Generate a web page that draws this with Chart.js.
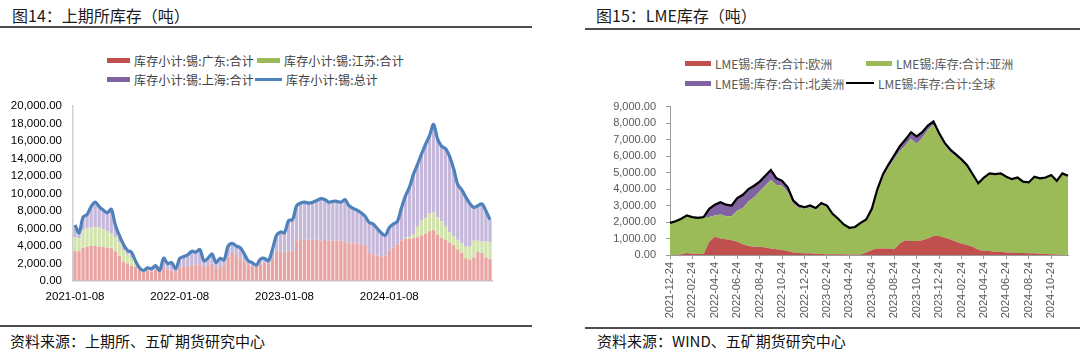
<!DOCTYPE html>
<html lang="zh-CN">
<head>
<meta charset="utf-8">
<title>上期所库存 / LME库存</title>
<script src="https://cdn.jsdelivr.net/npm/chart.js@4.4.1/dist/chart.umd.min.js"></script>
<style>
  html, body { margin: 0; padding: 0; background: #fff; }
  body {
    width: 1080px; height: 358px; position: relative; overflow: hidden;
    font-family: "Noto Sans CJK SC", "Liberation Sans", sans-serif;
  }
  .title { position: absolute; top: 4px; font-size: 16px; line-height: 22px; color: #1a1a1a; white-space: nowrap; }
  .rule { position: absolute; height: 2px; background: #4d4d4d; }
  .src { position: absolute; top: 331px; font-size: 15px; line-height: 20px; color: #111; white-space: nowrap; }
  .lg { position: absolute; height: 20px; display: flex; align-items: center; font-size: 12px; white-space: nowrap; }
  .lg i { display: inline-block; margin-right: 4px; }
  .lg.shfe { color: #404040; letter-spacing: 0.15px; }
  .lg.lme { color: #595959; letter-spacing: 0; }
  .box { position: absolute; }
</style>
</head>
<body>
  <div class="title" style="left:12px">图14：上期所库存（吨）</div>
  <div class="rule" style="left:0;width:532px;top:26px"></div>
  <div class="title" style="left:596px">图15：LME库存（吨）</div>
  <div class="rule" style="left:585px;width:495px;top:28px"></div>

  <div class="lg shfe" style="left:107px;top:50px"><i style="width:23px;height:5px;background:#c0504d"></i>库存小计:锡:广东:合计</div>
  <div class="lg shfe" style="left:257px;top:50px"><i style="width:23px;height:5px;background:#9bbb59"></i>库存小计:锡:江苏:合计</div>
  <div class="lg shfe" style="left:107px;top:69px"><i style="width:23px;height:5px;background:#8064a2"></i>库存小计:锡:上海:合计</div>
  <div class="lg shfe" style="left:255px;top:69px"><i style="width:27px;height:3px;background:#4f81bd"></i>库存小计:锡:总计</div>

  <div class="lg lme" style="left:685px;top:53px"><i style="width:26px;height:5px;background:#c0504d"></i>LME锡:库存:合计:欧洲</div>
  <div class="lg lme" style="left:866px;top:53px"><i style="width:26px;height:5px;background:#9bbb59"></i>LME锡:库存:合计:亚洲</div>
  <div class="lg lme" style="left:685px;top:73px"><i style="width:26px;height:5px;background:#8064a2"></i>LME锡:库存:合计:北美洲</div>
  <div class="lg lme" style="left:846px;top:73px"><i style="width:28px;height:2px;background:#000"></i>LME锡:库存:合计:全球</div>

  <div class="box" style="left:0;top:88px;width:540px;height:222px"><canvas id="shfe-chart"></canvas></div>
  <div class="box" style="left:585px;top:90px;width:495px;height:235px"><canvas id="lme-chart"></canvas></div>

  <div class="rule" style="left:0;width:532px;top:325px"></div>
  <div class="rule" style="left:585px;width:495px;top:327px"></div>
  <div class="src" style="left:10px">资料来源：上期所、五矿期货研究中心</div>
  <div class="src" style="left:597px">资料来源：WIND、五矿期货研究中心</div>

<script>
/* ================== DATA: 上期所 (biweekly, 吨) ================== */
const shfeTickLabels = ["2021-01-08", "2022-01-08", "2023-01-08", "2024-01-08"];

const shfeGuangdong = [
  3400, 3400, 3800, 3900, 4000, 4000, 3900, 3900, 3800, 3750,
  3400, 2900, 2200, 2000, 1750, 1600, 1300, 1100, 1200, 1100,
  1300, 1000, 1500, 1300, 1200, 900, 1500, 1600, 1700, 1800,
  1800, 1900, 1600, 1700, 2000, 1500, 1600, 1800, 2800, 3200,
  3000, 2600, 2200, 1800, 1700, 1600, 2000, 2100, 2000, 2600,
  3300, 3400, 3300, 3400, 3500, 4600, 4800, 4700, 4700, 4700,
  4700, 4600, 4700, 4600, 4600, 4600, 4600, 4500, 4300, 4300,
  4300, 4200, 4000, 3200, 3000, 2900, 2800, 2900, 3500, 3800,
  4200, 4600, 4850, 4850, 4900, 5000, 5200, 5400, 5700, 5800,
  5300, 4900, 4700, 4400, 4100, 3600, 3200, 2600, 2400, 2700,
  3300, 3200, 2700, 2500,
];

const shfeJiangsu = [
  1600, 1500, 2000, 2100, 2100, 2100, 2200, 2000, 1900, 1650,
  1600, 1500, 1300, 1000, 900, 600, 200, 50, 0, 0,
  0, 0, 0, 0, 0, 0, 0, 0, 0, 0,
  0, 0, 0, 0, 0, 0, 0, 0, 0, 0,
  0, 0, 0, 0, 0, 0, 0, 0, 0, 0,
  0, 0, 0, 0, 0, 0, 0, 0, 0, 0,
  0, 0, 0, 0, 0, 0, 0, 0, 0, 0,
  0, 0, 0, 0, 0, 0, 0, 0, 0, 0,
  0, 0, 100, 200, 400, 1200, 1700, 1800, 2000, 2000,
  2000, 1900, 1500, 1200, 1050, 1100, 1100, 1300, 1600, 1900,
  1300, 1300, 1800, 1900,
];

const shfeShanghai = [
  1400, 600, 1500, 1600, 2400, 2900, 2400, 2200, 2100, 2800,
  1400, 800, 700, 500, 650, 100, 0, 50, 300, 300,
  450, 200, 1100, 700, 900, 500, 1100, 1200, 1300, 1600,
  1500, 1700, 700, 900, 1100, 600, 1000, 600, 1200, 1100,
  1000, 1200, 900, 500, 400, 200, 500, 500, 300, 1000,
  1900, 2200, 2200, 3500, 3500, 4000, 4100, 4300, 4200, 4300,
  4500, 4800, 4600, 4400, 4500, 4500, 4400, 4800, 4300, 4000,
  3800, 3600, 3400, 3500, 3500, 3100, 2700, 2300, 2600, 2700,
  2600, 3700, 4750, 5650, 6900, 7100, 7600, 8400, 8900, 10100,
  8900, 8600, 8900, 8600, 7650, 6300, 6100, 5700, 4850, 3800,
  4000, 4300, 3500, 2600,
];

const shfeTotal = [
  6400, 5500, 7300, 7600, 8500, 9000, 8500, 8100, 7800, 8200,
  6400, 5200, 4200, 3500, 3300, 2300, 1500, 1200, 1500, 1400,
  1750, 1200, 2600, 2000, 2100, 1400, 2600, 2800, 3000, 3400,
  3300, 3600, 2300, 2600, 3100, 2100, 2600, 2400, 4000, 4300,
  4000, 3800, 3100, 2300, 2100, 1800, 2500, 2600, 2300, 3600,
  5200, 5600, 5500, 6900, 7000, 8600, 8900, 9000, 8900, 9000,
  9200, 9400, 9300, 9000, 9100, 9100, 9000, 9300, 8600, 8300,
  8100, 7800, 7400, 6700, 6500, 6000, 5500, 5200, 6100, 6500,
  6800, 8300, 9700, 10700, 12200, 13300, 14500, 15600, 16600, 17900,
  16200, 15400, 15100, 14200, 12800, 11000, 10400, 9600, 8850, 8400,
  8600, 8800, 8000, 7000,
];

/* ================== DATA: LME (semi-monthly, 吨) ================== */
const lmeEurope = [
  0, 0, 50, 120, 80, 60, 60, 800, 1100, 1000,
  950, 900, 800, 650, 550, 500, 500, 450, 400, 350,
  300, 250, 150, 120, 100, 100, 80, 60, 50, 50,
  50, 40, 30, 30, 30, 150, 300, 400, 400, 400,
  350, 700, 900, 850, 850, 900, 1000, 1150, 1150, 1050,
  950, 800, 700, 600, 500, 320, 250, 250, 200, 200,
  150, 150, 120, 120, 100, 100, 80, 60, 50, 30,
  0, 0,
];

const lmeAsia = [
  1950, 2050, 2150, 2280, 2220, 2190, 2240, 1500, 1300, 1450,
  1400, 1450, 1900, 2200, 2700, 3000, 3350, 3750, 4150, 3900,
  3900, 3550, 2950, 2730, 2700, 2800, 2670, 2990, 2850, 2370,
  2100, 1780, 1620, 1670, 1920, 2000, 2450, 3500, 4350, 4900,
  5450, 5600, 5750, 6200, 5900, 6200, 6600, 6750, 6100, 5600,
  5300, 5180, 5000, 4770, 4350, 4000, 4450, 4700, 4700, 4750,
  4600, 4450, 4580, 4330, 4300, 4650, 4570, 4640, 4800, 4470,
  4950, 4800,
];

const lmeNorthAmerica = [
  0, 0, 0, 0, 0, 0, 0, 500, 650, 750,
  700, 650, 750, 800, 750, 700, 600, 600, 600, 400,
  300, 300, 200, 150, 100, 100, 100, 100, 100, 80,
  50, 30, 0, 0, 0, 0, 50, 100, 150, 200,
  250, 300, 350, 400, 450, 350, 250, 200, 150, 150,
  150, 120, 100, 80, 50, 30, 0, 0, 0, 0,
  0, 0, 0, 0, 0, 0, 0, 0, 0, 0,
  0, 0,
];

const lmeGlobal = [
  1950, 2050, 2200, 2400, 2300, 2250, 2300, 2800, 3050, 3200,
  3050, 3000, 3450, 3650, 4000, 4200, 4450, 4800, 5150, 4650,
  4500, 4100, 3300, 3000, 2900, 3000, 2850, 3150, 3000, 2500,
  2200, 1850, 1650, 1700, 1950, 2150, 2800, 4000, 4900, 5500,
  6050, 6600, 7000, 7450, 7200, 7450, 7850, 8100, 7400, 6800,
  6400, 6100, 5800, 5450, 4900, 4350, 4700, 4950, 4900, 4950,
  4750, 4600, 4700, 4450, 4400, 4750, 4650, 4700, 4850, 4500,
  4950, 4800,
];

/* ================== CATEGORIES ================== */
const pad2 = (n) => String(n).padStart(2, "0");
const ymd = (d) => `${d.getUTCFullYear()}-${pad2(d.getUTCMonth() + 1)}-${pad2(d.getUTCDate())}`;

// 上期所: every two weeks from 2021-01-08
const shfeDates = shfeTotal.map((_, i) => ymd(new Date(Date.UTC(2021, 0, 8 + i * 14))));
const SHFE_TICK_EVERY = 26;

// LME: the 24th and the 9th of each month from 2021-12-24
const lmeDates = lmeGlobal.map((_, i) => {
  const m = 11 + Math.floor((i + 1) / 2);
  const day = i % 2 === 0 ? 24 : 9;
  return ymd(new Date(Date.UTC(2021, m, day)));
});
const LME_TICK_EVERY = 4;

/* ================== UTILS ================== */
const fmt2 = (v) => Number(v).toLocaleString("en-US", { minimumFractionDigits: 2, maximumFractionDigits: 2 });

Chart.defaults.font.family = "'Liberation Sans', Arial, sans-serif";
Chart.defaults.animation = false;
Chart.defaults.plugins.legend.display = false;
Chart.defaults.plugins.tooltip.enabled = false;

/* ================== CHART: 上期所 ================== */
const barDs = (label, data, color) => ({
  type: "bar",
  label,
  data,
  backgroundColor: color,
  borderWidth: 0,
  stack: "parts",
  order: 1,
  barPercentage: 0.82,
  categoryPercentage: 1,
});

new Chart(document.getElementById("shfe-chart"), {
  type: "bar",
  data: {
    labels: shfeDates,
    datasets: [
      barDs("库存小计:锡:广东:合计", shfeGuangdong, "#e8a4a3"),
      barDs("库存小计:锡:江苏:合计", shfeJiangsu, "#d3e3ad"),
      barDs("库存小计:锡:上海:合计", shfeShanghai, "#c5b8da"),
      {
        type: "line",
        label: "库存小计:锡:总计",
        data: shfeTotal,
        borderColor: "#4f81bd",
        borderWidth: 3.2,
        pointRadius: 0,
        tension: 0.3,
        fill: false,
        stack: "total",
        order: 0,
      },
    ],
  },
  options: {
    responsive: true,
    maintainAspectRatio: false,
    devicePixelRatio: 1,
    layout: { padding: { top: 3, right: 48, bottom: 0, left: 0 } },
    scales: {
      x: {
        stacked: true,
        afterFit: (s) => { s.height = 29; },
        grid: { display: true, drawOnChartArea: false, drawTicks: false },
        border: { display: true, color: "#c8c8c8", width: 1.5 },
        afterBuildTicks: (axis) => {
          axis.ticks = axis.ticks.filter((t) => t.value % SHFE_TICK_EVERY === 0);
        },
        ticks: {
          autoSkip: false,
          maxRotation: 0,
          padding: 9,
          color: "#000",
          font: { size: 11.5 },
          callback: (v) => shfeTickLabels[v / SHFE_TICK_EVERY] ?? "",
        },
      },
      y: {
        stacked: true,
        min: 0,
        max: 20000,
        afterFit: (s) => { s.width = 73; },
        grid: { display: true, drawOnChartArea: false, drawTicks: false },
        border: { display: true, color: "#d0d0d0", width: 1.5 },
        ticks: {
          stepSize: 2000,
          autoSkip: false,
          padding: 11,
          color: "#000",
          font: { size: 11.5 },
          callback: (v) => fmt2(v),
        },
      },
    },
  },
});

/* ================== CHART: LME ================== */
const areaDs = (label, data, color, fill) => ({
  label,
  data,
  backgroundColor: color,
  borderColor: color,
  borderWidth: 0,
  pointRadius: 0,
  tension: 0,
  fill,
  stack: "areas",
  order: 1,
});

new Chart(document.getElementById("lme-chart"), {
  type: "line",
  data: {
    labels: lmeDates,
    datasets: [
      areaDs("LME锡:库存:合计:欧洲", lmeEurope, "#c0504d", "origin"),
      areaDs("LME锡:库存:合计:亚洲", lmeAsia, "#9bbb59", "-1"),
      areaDs("LME锡:库存:合计:北美洲", lmeNorthAmerica, "#8064a2", "-1"),
      {
        label: "LME锡:库存:合计:全球",
        data: lmeGlobal,
        borderColor: "#000",
        borderWidth: 2.2,
        pointRadius: 0,
        tension: 0,
        fill: false,
        stack: "total",
        order: 0,
      },
    ],
  },
  options: {
    responsive: true,
    maintainAspectRatio: false,
    devicePixelRatio: 1,
    layout: { padding: { top: 6, right: 12, bottom: 0, left: 0 } },
    scales: {
      x: {
        offset: false,
        afterFit: (s) => { s.height = 70; },
        grid: { display: true, drawOnChartArea: false, drawTicks: true, tickLength: 4, color: "#9a9a9a" },
        border: { display: true, color: "#9a9a9a" },
        afterBuildTicks: (axis) => {
          axis.ticks = axis.ticks.filter((t) => t.value % LME_TICK_EVERY === 0);
        },
        ticks: {
          autoSkip: false,
          minRotation: 90,
          maxRotation: 90,
          padding: 3,
          color: "#595959",
          font: { size: 11 },
          callback: (v) => lmeDates[v],
        },
      },
      y: {
        stacked: true,
        min: 0,
        max: 9000,
        afterFit: (s) => { s.width = 85; },
        grid: { display: true, drawOnChartArea: false, drawTicks: true, tickLength: 4, color: "#9a9a9a" },
        border: { display: true, color: "#9a9a9a" },
        ticks: {
          stepSize: 1000,
          autoSkip: false,
          padding: 10,
          color: "#595959",
          font: { size: 11 },
          callback: (v) => fmt2(v),
        },
      },
    },
  },
});
</script>
</body>
</html>
